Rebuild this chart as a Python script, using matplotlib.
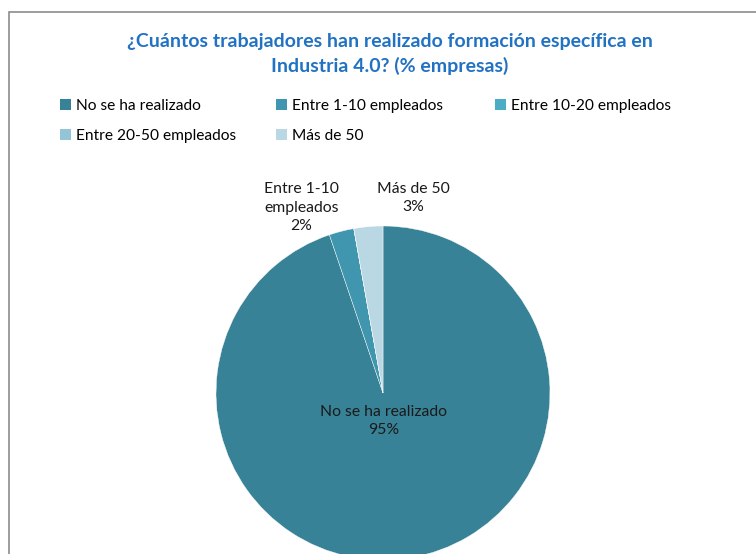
import numpy as np
import matplotlib.pyplot as plt
from matplotlib.patches import Patch, Rectangle

plt.rcParams['font.family'] = ['Lato', 'DejaVu Sans']

# data
categorias = ["No se ha realizado", "Entre 1-10 empleados", "Entre 10-20 empleados",
              "Entre 20-50 empleados", "Más de 50"]
valores = [94.8, 2.4, 0, 0, 2.8]
etiquetas = ["No se ha realizado\n95%", "Entre 1-10\nempleados\n2%", "", "", "Más de 50\n3%"]
colores = ["#378296", "#4096ae", "#4bacc6", "#93c5d6", "#bad8e3"]

W, H = 756, 554
fig = plt.figure(figsize=(W / 100, H / 100), dpi=100)

# chart border (left + top, rest runs off the image)
fig.patches.append(Rectangle((9 / W, -0.1), 1.2, (H - 12) / H + 0.1,
                             transform=fig.transFigure, fill=False,
                             edgecolor="#8c8c8c", linewidth=1.2))

fig.text(390 / W, 1 - 42 / H, "¿Cuántos trabajadores han realizado formación específica en",
         ha="center", va="center", fontsize=14, fontweight="bold", color="#2272c3")
fig.text(390 / W, 1 - 66 / H, "Industria 4.0? (% empresas)",
         ha="center", va="center", fontsize=14, fontweight="bold", color="#2272c3")

# pie
cx, cy, r = 383, 393, 167
ax = fig.add_axes([(cx - r) / W, (H - cy - r) / H, 2 * r / W, 2 * r / H])
wedges, _ = ax.pie(valores, colors=colores, startangle=90, counterclock=False,
                   radius=1, wedgeprops=dict(edgecolor="white", linewidth=0.3))
ax.set_xlim(-1, 1)
ax.set_ylim(-1, 1)
ax.set_aspect("equal")
ax.axis("off")

# data labels (Excel-like placement)
pos_etiquetas = {0: (0.005, -0.168), 1: (-0.49, 1.11), 4: (0.18, 1.168)}
for i, (x, y) in pos_etiquetas.items():
    ax.text(x, y, etiquetas[i], ha="center", va="center", fontsize=11.3,
            color="#1a1a1a", linespacing=1.4, clip_on=False)

# legend: Excel uses equal-width columns, so one legend per column
columnas = [[0, 3], [1, 4], [2]]
x_col = [46, 262, 481]
for idx, x0 in zip(columnas, x_col):
    handles = [Patch(facecolor=colores[i], label=categorias[i]) for i in idx]
    leg = fig.legend(handles=handles, loc="upper left",
                     bbox_to_anchor=(x0 / W, 1 - 85 / H), frameon=False, fontsize=11.2,
                     handlelength=0.7, handleheight=0.7, handletextpad=0.3,
                     labelspacing=1.0)

fig.savefig("out.png", dpi=100)
